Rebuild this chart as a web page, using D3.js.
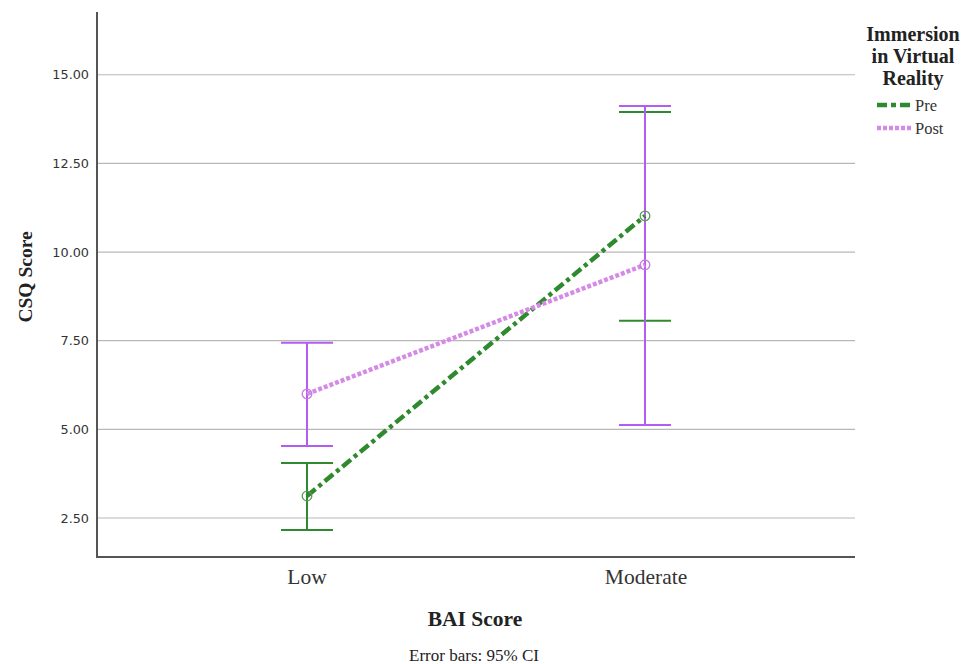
<!DOCTYPE html>
<html>
<head>
<meta charset="utf-8">
<script src="https://cdn.jsdelivr.net/npm/d3@7"></script>
<style>
  html, body { margin: 0; padding: 0; background: #fff; }
  svg { display: block; }
</style>
</head>
<body>
<svg id="chart" width="964" height="664"></svg>
<script>
// BAI anxiety group on the x axis, CSQ score means with 95% CI
const categories = ["Low", "Moderate"];
const seriesNames = ["Pre", "Post"];
const preMean  = [3.12, 11.02];
const preLow   = [2.16, 8.06];
const preHigh  = [4.05, 13.95];
const postMean = [6.00, 9.64];
const postLow  = [4.53, 5.12];
const postHigh = [7.44, 14.12];
const yTicks = [2.5, 5, 7.5, 10, 12.5, 15];

const series = [
  { name: seriesNames[0], mean: preMean, lo: preLow, hi: preHigh,
    line: "#2f8a2f", bar: "#2f8a2f", dash: "11,4,4,4", pt: "#5a9a5a", legendDash: "10,4,5,4" },
  { name: seriesNames[1], mean: postMean, lo: postLow, hi: postHigh,
    line: "#d68ae8", bar: "#b25cf0", dash: "4,2", pt: "#c77ae6", legendDash: "4,2" }
];

const svg = d3.select("#chart");
const plotLeft = 97, plotRight = 855, plotTop = 12, plotBottom = 557;
const serif = "'Liberation Serif', 'Times New Roman', serif";

const x = d3.scalePoint().domain(categories).range([plotLeft, plotRight]).padding(0.618);
const y = d3.scaleLinear().domain([1.4, 16.77]).range([plotBottom, plotTop]);

// horizontal gridlines
svg.append("g")
  .selectAll("line")
  .data(yTicks)
  .join("line")
  .attr("x1", plotLeft).attr("x2", plotRight)
  .attr("y1", d => y(d)).attr("y2", d => y(d))
  .attr("stroke", "#b8b8b8").attr("stroke-width", 1.2);

// y axis
const yAxis = svg.append("g")
  .attr("transform", `translate(${plotLeft},0)`)
  .call(d3.axisLeft(y).tickValues(yTicks).tickFormat(d3.format(".2f")).tickSize(0).tickPadding(8));
yAxis.select(".domain").remove();
yAxis.selectAll("text")
  .attr("font-family", "'DejaVu Sans', sans-serif")
  .attr("font-size", 12.8).attr("fill", "#333");

// x axis
const xAxis = svg.append("g")
  .attr("transform", `translate(0,${plotBottom})`)
  .call(d3.axisBottom(x).tickSize(0).tickPadding(12));
xAxis.select(".domain").remove();
xAxis.selectAll("text")
  .attr("font-family", serif)
  .attr("font-size", 21.5).attr("fill", "#333");

// axis frame lines
svg.append("line").attr("x1", plotLeft).attr("x2", plotLeft).attr("y1", plotTop).attr("y2", plotBottom)
  .attr("stroke", "#555").attr("stroke-width", 2);
svg.append("line").attr("x1", plotLeft - 1).attr("x2", plotRight).attr("y1", plotBottom).attr("y2", plotBottom)
  .attr("stroke", "#555").attr("stroke-width", 2);

// error bars (snapped to whole pixels so overlapping bars stay crisp)
const cap = 26;
series.forEach(s => {
  const g = svg.append("g");
  categories.forEach((c, i) => {
    const cx = Math.round(x(c));
    g.append("line").attr("x1", cx).attr("x2", cx)
      .attr("y1", y(s.lo[i])).attr("y2", y(s.hi[i]))
      .attr("stroke", s.bar).attr("stroke-width", 2);
    [s.lo[i], s.hi[i]].forEach(v => {
      g.append("line").attr("x1", cx - cap).attr("x2", cx + cap)
        .attr("y1", y(v)).attr("y2", y(v))
        .attr("stroke", s.bar).attr("stroke-width", 2);
    });
  });
});

// mean lines and points
const lineGen = d3.line().x((d, i) => Math.round(x(categories[i]))).y(d => y(d));
series.forEach(s => {
  svg.append("path")
    .datum(s.mean)
    .attr("d", lineGen)
    .attr("fill", "none")
    .attr("stroke", s.line)
    .attr("stroke-width", 4.5)
    .attr("stroke-dasharray", s.dash);
  svg.append("g").selectAll("circle")
    .data(s.mean)
    .join("circle")
    .attr("cx", (d, i) => Math.round(x(categories[i])))
    .attr("cy", d => y(d))
    .attr("r", 4.8)
    .attr("fill", "none")
    .attr("stroke", s.pt)
    .attr("stroke-width", 1.3);
});

// axis titles
svg.append("text")
  .attr("transform", "translate(32,277) rotate(-90)")
  .attr("text-anchor", "middle")
  .attr("font-family", serif)
  .attr("font-weight", "bold").attr("font-size", 19.5).attr("fill", "#222")
  .text("CSQ Score");

svg.append("text")
  .attr("x", 475).attr("y", 626)
  .attr("text-anchor", "middle")
  .attr("font-family", serif)
  .attr("font-weight", "bold").attr("font-size", 21.5).attr("fill", "#222")
  .text("BAI Score");

svg.append("text")
  .attr("x", 474).attr("y", 661)
  .attr("text-anchor", "middle")
  .attr("font-family", serif)
  .attr("font-size", 17).attr("fill", "#222")
  .text("Error bars: 95% CI");

// legend
const legend = svg.append("g");
["Immersion", "in Virtual", "Reality"].forEach((t, i) => {
  legend.append("text")
    .attr("x", 913).attr("y", 41 + i * 22)
    .attr("text-anchor", "middle")
    .attr("font-family", serif)
    .attr("font-weight", "bold").attr("font-size", 20).attr("fill", "#222")
    .text(t);
});
series.forEach((s, i) => {
  const ly = 105 + i * 23;
  legend.append("line")
    .attr("x1", 877).attr("x2", 911).attr("y1", ly).attr("y2", ly)
    .attr("stroke", s.line).attr("stroke-width", 4.5)
    .attr("stroke-dasharray", s.legendDash);
  legend.append("text")
    .attr("x", 915).attr("y", ly + 5.5)
    .attr("font-family", serif)
    .attr("font-size", 16.5).attr("fill", "#333")
    .text(s.name);
});
</script>
</body>
</html>
